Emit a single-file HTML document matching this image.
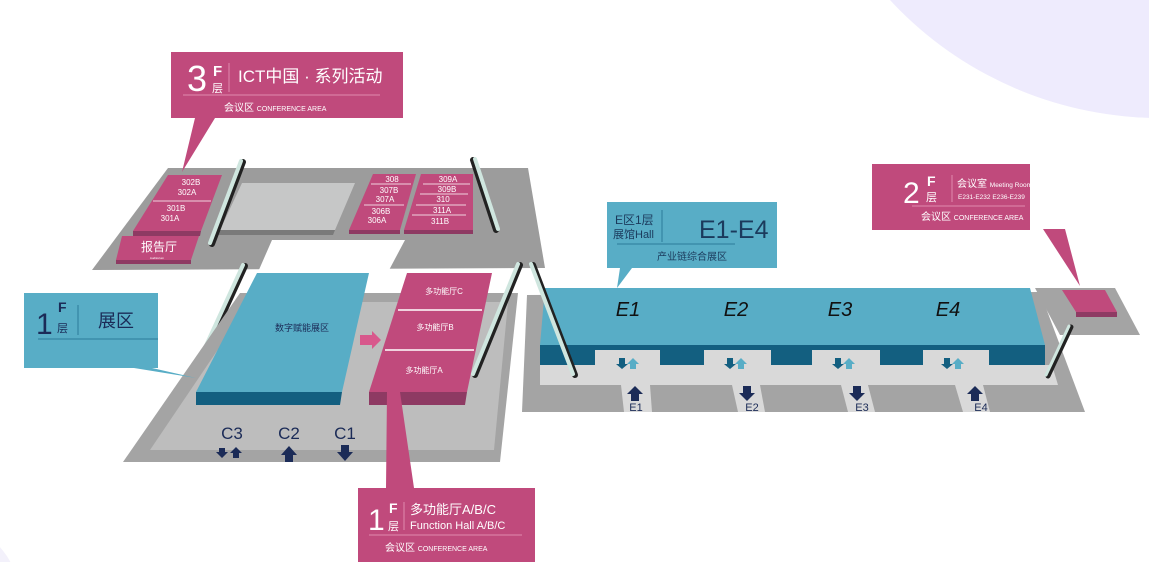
<!DOCTYPE html>
<html><head><meta charset="utf-8"><style>
html,body{margin:0;padding:0;background:#fff;width:1149px;height:562px;overflow:hidden;}
svg{display:block;font-family:"Liberation Sans","Noto Sans CJK SC",sans-serif;}
</style></head><body>
<svg width="1149" height="562" viewBox="0 0 1149 562" xmlns="http://www.w3.org/2000/svg">
<circle cx="1160" cy="-250" r="368" fill="#eeebfd"/>
<circle cx="-60" cy="600" r="80" fill="#f3f1fb"/>

<!-- 3F plate -->
<polygon points="168,168 528,168 545,268 92,270" fill="#9c9c9c"/>
<polygon points="272,240 405,240 388,272 258,272" fill="#fff"/>
<polygon points="242,183 355,183 335,230 220,230" fill="#c6c7c7"/>
<polygon points="220,230 335,230 333,235 218,235" fill="#7a7a7a"/>
<polygon points="168,175 222,175 201,231 133,231" fill="#c04a7c"/>
<polygon points="133,231 201,231 200,236 133,236" fill="#8e3a63"/>
<line x1="153" y1="201" x2="211" y2="201" stroke="#fff" stroke-width="0.8"/>
<g fill="#fff" font-size="8" text-anchor="middle"><text x="191" y="185">302B</text><text x="187" y="195">302A</text><text x="176" y="211">301B</text><text x="170" y="221">301A</text></g>
<polygon points="122,236 199,236 191,260 116,260" fill="#c04a7c"/>
<polygon points="116,260 191,260 191,264 116,264" fill="#8e3a63"/>
<text x="159" y="251" fill="#fff" font-size="12" text-anchor="middle">报告厅</text>
<text x="157" y="259" fill="#fff" font-size="3" text-anchor="middle">Auditorium</text>
<polygon points="373,174 416,174 400,230 349,230" fill="#c04a7c"/>
<polygon points="349,230 400,230 400,234 349,234" fill="#8e3a63"/>
<polygon points="421,174 473,174 473,230 404,230" fill="#c04a7c"/>
<polygon points="404,230 473,230 473,234 404,234" fill="#8e3a63"/>
<g stroke="#fff" stroke-width="0.8"><line x1="371" y1="184" x2="411" y2="184"/><line x1="364" y1="205" x2="404" y2="205"/><line x1="423" y1="184" x2="470" y2="184"/><line x1="420" y1="194" x2="468" y2="194"/><line x1="416" y1="205" x2="466" y2="205"/><line x1="412" y1="215" x2="466" y2="215"/></g>
<g fill="#fff" font-size="8" text-anchor="middle"><text x="392" y="182">308</text><text x="389" y="193">307B</text><text x="385" y="202">307A</text><text x="381" y="214">306B</text><text x="377" y="223">306A</text>
<text x="448" y="182">309A</text><text x="447" y="192">309B</text><text x="443" y="202">310</text><text x="442" y="213">311A</text><text x="440" y="224">311B</text></g>

<!-- escalators -->
<g stroke-linecap="round">
<line x1="243" y1="162" x2="212" y2="244" stroke="#222" stroke-width="6"/><line x1="241" y1="161" x2="210" y2="243" stroke="#cfe6df" stroke-width="4"/>
<line x1="473" y1="160" x2="496" y2="230" stroke="#222" stroke-width="6"/><line x1="475" y1="159" x2="498" y2="229" stroke="#cfe6df" stroke-width="4"/>
<line x1="245" y1="266" x2="195" y2="375" stroke="#222" stroke-width="6"/><line x1="243" y1="265" x2="193" y2="374" stroke="#cfe6df" stroke-width="4"/>
</g>

<!-- 1F left plate -->
<polygon points="240,293 518,293 500,462 123,462" fill="#a4a4a4"/>
<polygon points="250,302 508,302 494,450 150,450" fill="#bdbdbd"/>
<g fill="#a4a4a4"><rect x="210" y="450" width="40" height="12"/><rect x="268" y="450" width="35" height="12"/><rect x="330" y="450" width="40" height="12"/></g>
<polygon points="257,273 369,273 342,392 196,392" fill="#58adc6"/>
<polygon points="196,392 342,392 340,405 196,405" fill="#135f80"/>
<text x="302" y="331" font-size="9" fill="#1b2b57" text-anchor="middle">数字赋能展区</text>
<polygon points="360,335 372,335 372,331 381,340 372,349 372,345 360,345" fill="#d8588c"/>
<polygon points="407,273 492,273 467,392 369,392" fill="#c04a7c"/>
<polygon points="369,392 467,392 465,405 369,405" fill="#8e3a63"/>
<line x1="398" y1="310" x2="482" y2="310" stroke="#fff" stroke-width="1.5"/>
<line x1="385" y1="350" x2="474" y2="350" stroke="#fff" stroke-width="1.5"/>
<g fill="#fff" font-size="8" text-anchor="middle"><text x="444" y="294">多功能厅C</text><text x="435" y="330">多功能厅B</text><text x="424" y="373">多功能厅A</text></g>
<line x1="520" y1="265" x2="475" y2="375" stroke="#222" stroke-width="6" stroke-linecap="round"/><line x1="518" y1="264" x2="473" y2="374" stroke="#cfe6df" stroke-width="4" stroke-linecap="round"/>
<g fill="#1b2b57" font-size="17" text-anchor="middle"><text x="232" y="439">C3</text><text x="289" y="439">C2</text><text x="345" y="439">C1</text></g>
<g fill="#1b2b57">
<polygon points="219,448 225,448 225,452 228,452 222,458 216,452 219,452"/>
<polygon points="233,458 239,458 239,453 242,453 236,447 230,453 233,453"/>
<polygon points="285,462 293,462 293,455 297,455 289,446 281,455 285,455"/>
<polygon points="341,445 349,445 349,452 353,452 345,461 337,452 341,452"/>
</g>

<!-- E plate -->
<polygon points="527,295 1040,292 1085,412 522,412" fill="#a4a4a4"/>
<polygon points="545,288 1030,288 1045,345 540,345" fill="#58adc6"/>
<polygon points="540,345 1045,345 1045,365 540,365" fill="#135f80"/>
<polygon points="540,365 1052,365 1058,385 540,385" fill="#d9d9d9"/>
<g fill="#d9d9d9"><rect x="595" y="350" width="65" height="16"/><rect x="704" y="350" width="67" height="16"/><rect x="812" y="350" width="68" height="16"/><rect x="923" y="350" width="66" height="16"/>
<polygon points="621,385 650,385 652,412 624,412"/><polygon points="732,385 760,385 765,412 738,412"/><polygon points="841,385 868,385 875,412 848,412"/><polygon points="955,385 983,385 990,412 963,412"/></g>
<g fill="#111" font-size="20" font-style="italic" text-anchor="middle"><text x="628" y="316">E1</text><text x="736" y="316">E2</text><text x="840" y="316">E3</text><text x="948" y="316">E4</text></g>
<g font-size="11" fill="#1b2b57" text-anchor="middle"><text x="636" y="411">E1</text><text x="752" y="411">E2</text><text x="862" y="411">E3</text><text x="981" y="411">E4</text></g>
<g id="pair">
<polygon points="619,358 625,358 625,364 628,364 622,369 616,364 619,364" fill="#135f80"/>
<polygon points="630,369 636,369 636,364 639,364 633,358 627,364 630,364" fill="#58adc6"/>
</g>
<use href="#pair" x="108"/><use href="#pair" x="216"/><use href="#pair" x="325"/>
<g fill="#1b2b57">
<polygon points="631,401 639,401 639,394 643,394 635,386 627,394 631,394"/>
<polygon points="743,386 751,386 751,393 755,393 747,401 739,393 743,393"/>
<polygon points="853,386 861,386 861,393 865,393 857,401 849,393 853,393"/>
<polygon points="971,401 979,401 979,394 983,394 975,386 967,394 971,394"/>
</g>
<line x1="533" y1="265" x2="575" y2="375" stroke="#222" stroke-width="6" stroke-linecap="round"/><line x1="531" y1="264" x2="573" y2="374" stroke="#cfe6df" stroke-width="4" stroke-linecap="round"/>
<!-- 2F plate -->
<polygon points="1035,288 1115,288 1140,335 1060,335" fill="#a4a4a4"/>
<polygon points="1062,290 1105,290 1117,312 1076,312" fill="#c04a7c"/>
<polygon points="1076,312 1117,312 1117,317 1076,317" fill="#8e3a63"/>
<line x1="1071" y1="327" x2="1048" y2="376" stroke="#222" stroke-width="5" stroke-linecap="round"/><line x1="1069" y1="326" x2="1046" y2="375" stroke="#cfe6df" stroke-width="3" stroke-linecap="round"/>

<!-- callouts -->
<polygon points="171,52 403,52 403,118 215,118 182,172 195,118 171,118" fill="#c04a7c"/>
<g fill="#fff"><text x="187" y="91" font-size="36">3</text><text x="213" y="76" font-size="15" font-weight="bold">F</text><text x="212" y="92" font-size="11">层</text>
<text x="238" y="82" font-size="17">ICT中国 · 系列活动</text>
<text x="224" y="111" font-size="10">会议区 <tspan font-size="7">CONFERENCE AREA</tspan></text></g>
<line x1="229" y1="63" x2="229" y2="92" stroke="#e08aae"/><line x1="183" y1="95" x2="380" y2="95" stroke="#e08aae"/>

<polygon points="607,202 777,202 777,268 632,268 617,288 620,268 607,268" fill="#58adc6"/>
<g fill="#1b3a5c"><text x="615" y="224" font-size="12">E区1层</text><text x="613" y="238" font-size="11">展馆Hall</text>
<text x="699" y="238" font-size="25">E1-E4</text><text x="692" y="260" font-size="10" text-anchor="middle">产业链综合展区</text></g>
<line x1="662" y1="210" x2="662" y2="242" stroke="#2d7a9a"/><line x1="617" y1="244" x2="735" y2="244" stroke="#2d7a9a"/>

<rect x="872" y="164" width="158" height="66" fill="#c04a7c"/>
<polygon points="1043,229 1065,229 1080,286" fill="#c04a7c"/>
<g fill="#fff"><text x="903" y="203" font-size="30">2</text><text x="927" y="186" font-size="14" font-weight="bold">F</text><text x="926" y="201" font-size="11">层</text>
<text x="957" y="187" font-size="10">会议室 <tspan font-size="6.5">Meeting Room</tspan></text><text x="958" y="199" font-size="6.5">E231-E232  E236-E239</text>
<text x="921" y="220" font-size="10">会议区 <tspan font-size="7">CONFERENCE AREA</tspan></text></g>
<line x1="952" y1="175" x2="952" y2="202" stroke="#e08aae"/><line x1="912" y1="206" x2="1025" y2="206" stroke="#e08aae"/>

<polygon points="24,293 158,293 158,368 152,368 196,378 134,368 24,368" fill="#58adc6"/>
<g fill="#1b2b57"><text x="36" y="334" font-size="30">1</text><text x="58" y="312" font-size="14" font-weight="bold">F</text><text x="57" y="332" font-size="11">层</text>
<text x="98" y="327" font-size="18">展区</text></g>
<line x1="78" y1="305" x2="78" y2="335" stroke="#2d7a9a"/><line x1="38" y1="339" x2="158" y2="339" stroke="#2d7a9a"/>

<polygon points="387,392 400,392 414,488 535,488 535,562 358,562 358,488 386,488" fill="#c04a7c"/>
<g fill="#fff"><text x="368" y="530" font-size="30">1</text><text x="389" y="513" font-size="14" font-weight="bold">F</text><text x="388" y="530" font-size="11">层</text>
<text x="410" y="514" font-size="13">多功能厅A/B/C</text><text x="410" y="529" font-size="11">Function Hall A/B/C</text>
<text x="385" y="551" font-size="10">会议区 <tspan font-size="7">CONFERENCE AREA</tspan></text></g>
<line x1="404" y1="502" x2="404" y2="530" stroke="#e08aae"/><line x1="369" y1="535" x2="522" y2="535" stroke="#e08aae"/>
</svg>
</body></html>
